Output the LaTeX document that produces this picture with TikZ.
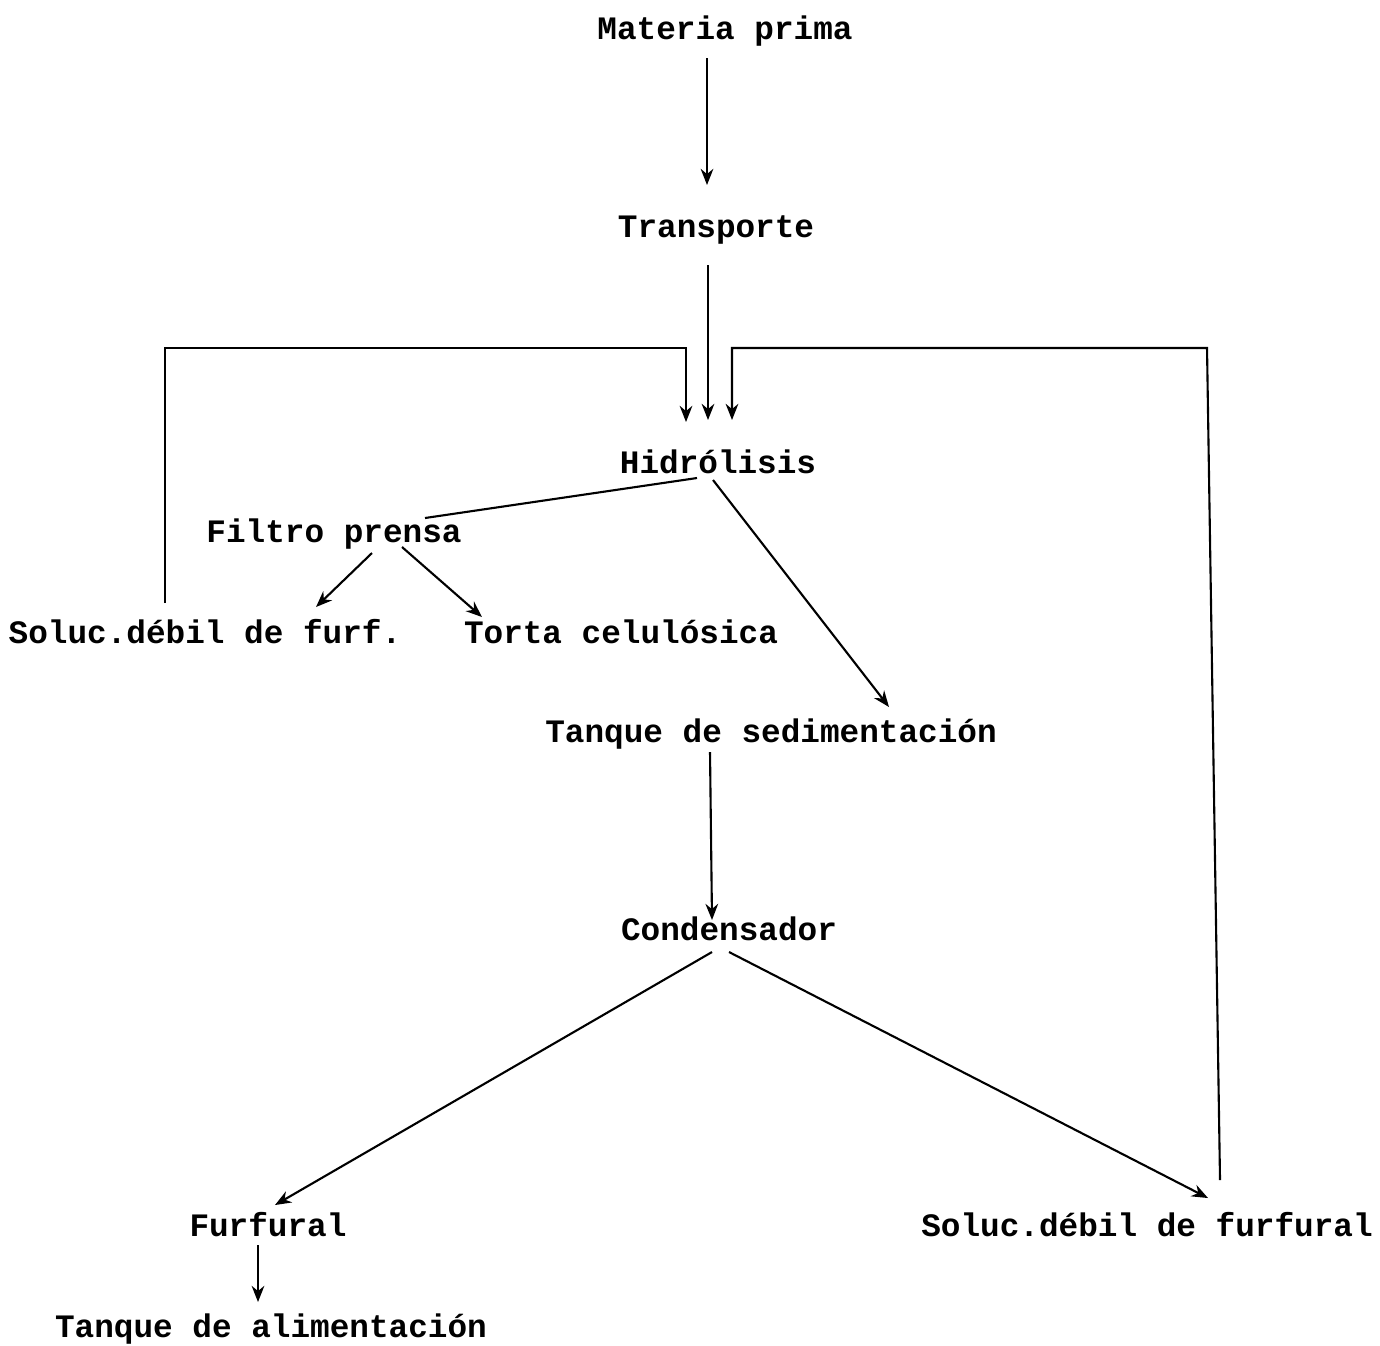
\documentclass[tikz,border=0pt]{standalone}
\usepackage{fontspec}
\setmonofont{Liberation Mono}
\usetikzlibrary{arrows.meta,calc}
\tikzset{
%Define standard arrow tip
>={Stealth[length=4.6pt,width=3.6pt]},
%Define styles for the flow chart
etapa/.style={font=\ttfamily\bfseries\fontsize{9.3}{11}\selectfont, inner sep=0pt, text height=8.2pt, text depth=1pt},
flujo/.style={->, line width=0.6pt},
enlace/.style={line width=0.6pt},
}

\begin{document}
\begin{tikzpicture}[x=0.01cm, y=-0.01cm]
    \useasboundingbox (0,0) rectangle (1380,1345);

    % etapas del proceso
    \node[etapa] (mp) at (725,27) {Materia prima};
    \node[etapa] (tr) at (716,225) {Transporte};
    \node[etapa] (hi) at (718,461) {Hidrólisis};
    \node[etapa] (fp) at (334,530) {Filtro prensa};
    \node[etapa] (sf) at (205,631) {Soluc.débil de furf.};
    \node[etapa] (tc) at (621,631) {Torta celulósica};
    \node[etapa] (ts) at (771,730) {Tanque de sedimentación};
    \node[etapa] (co) at (729,928) {Condensador};
    \node[etapa] (fu) at (268,1224) {Furfural};
    \node[etapa] (sl) at (1147,1224) {Soluc.débil de furfural};
    \node[etapa] (ta) at (271,1325) {Tanque de alimentación};

    % esquinas de los retornos
    \coordinate (retizq) at (686,348);
    \coordinate (retder) at (1207,348);

    % flujo principal
    \draw[flujo] ($(mp)+(-18,31)$) -- ($(tr)+(-9,-40)$);
    \draw[flujo] ($(tr)+(-8,40)$) -- ($(hi)+(-10,-41)$);
    \draw[enlace] ($(hi)+(-21,17)$) -- ($(fp)+(91,-12)$);
    \draw[flujo] ($(fp)+(38,23)$) -- ($(sf)+(111,-24)$);
    \draw[flujo] ($(fp)+(68,17)$) -- ($(tc)+(-139,-14)$);
    \draw[flujo] ($(hi)+(-5,19)$) -- ($(ts)+(118,-23)$);
    \draw[flujo] ($(ts)+(-61,22)$) -- ($(co)+(-17,-8)$);
    \draw[flujo] ($(co)+(-17,24)$) -- ($(fu)+(7,-19)$);
    \draw[flujo] ($(co)+(0,24)$) -- ($(sl)+(61,-26)$);
    \draw[flujo] ($(fu)+(-10,21)$) -- ($(ta)+(-13,-23)$);

    % retornos a la hidrolisis
    \draw[flujo] ($(sf)+(-40,-28)$) |- (retizq) -- ($(hi)+(-32,-39)$);
    \draw[flujo] ($(sl)+(73,-44)$) -- (retder) -| ($(hi)+(14,-41)$);
\end{tikzpicture}
\end{document}
